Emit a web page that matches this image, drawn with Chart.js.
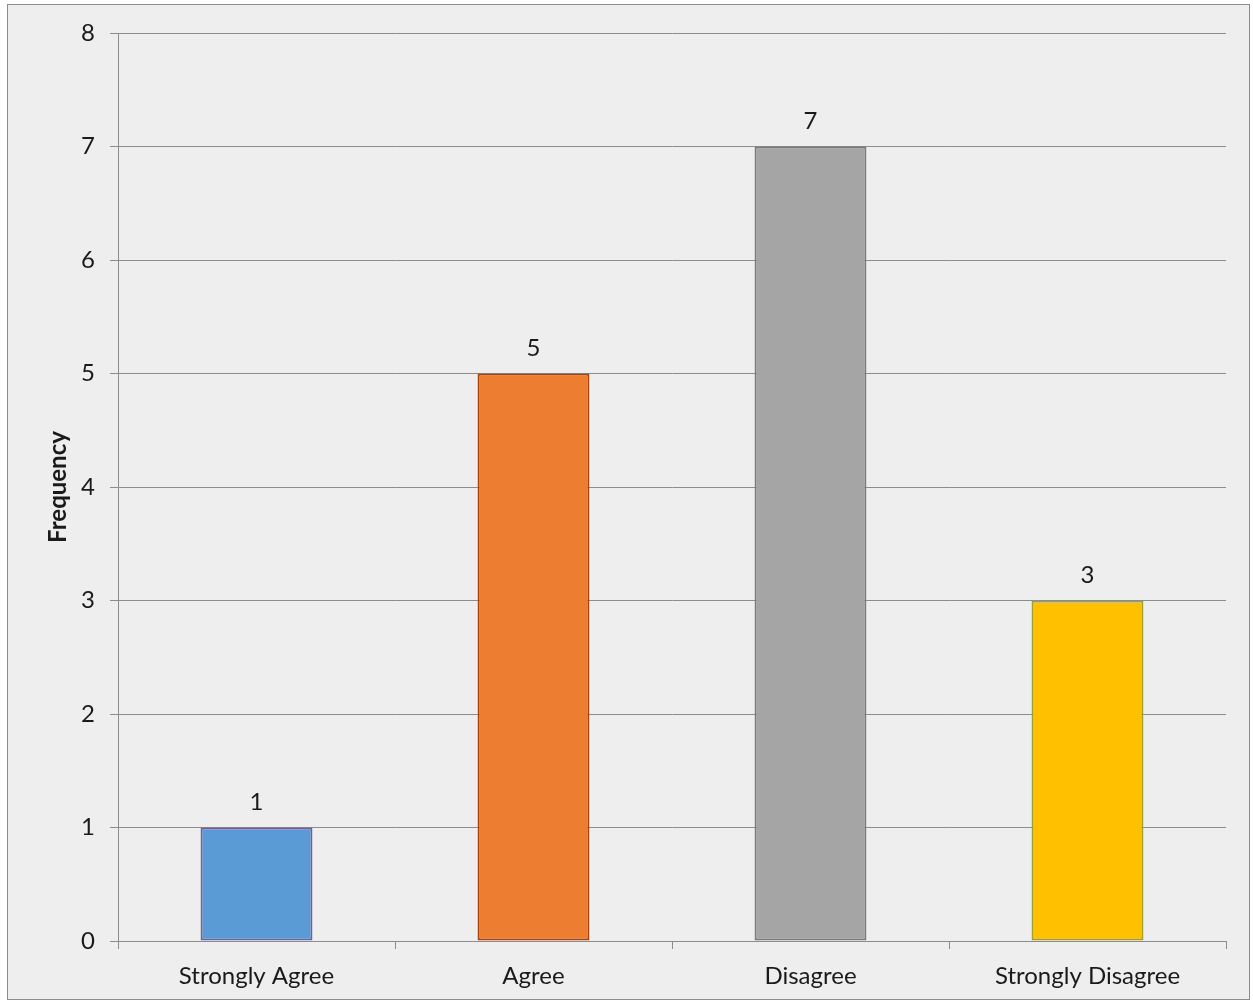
<!DOCTYPE html>
<html>
<head>
<meta charset="utf-8">
<script src="https://cdn.jsdelivr.net/npm/chart.js@4/dist/chart.umd.min.js"></script>
<style>
  html, body { margin: 0; padding: 0; background: #ffffff; }
  #wrap { width: 1253px; height: 1003px; position: relative; }
</style>
</head>
<body>
<div id="wrap"><canvas id="c" width="1253" height="1003"></canvas></div>
<script>
const categories = ["Strongly Agree", "Agree", "Disagree", "Strongly Disagree"];
const frequencies = [1, 5, 7, 3];
const yTicks = [0, 1, 2, 3, 4, 5, 6, 7, 8];
const barColors = ["#5b9bd5", "#ed7d31", "#a5a5a5", "#ffc000"];
const barBorders = ["#6b62a6", "#a8420f", "#7a7a7a", "#a0a030"];

const FONT = "Lato, 'Open Sans', 'Liberation Sans', sans-serif";

const bgPlugin = {
  id: 'bg',
  beforeDraw(chart) {
    const ctx = chart.ctx;
    ctx.save();
    ctx.fillStyle = '#ffffff';
    ctx.fillRect(0, 0, chart.width, chart.height);
    ctx.fillStyle = '#eeeeee';
    ctx.fillRect(7.5, 4.5, 1242, 995);
    ctx.strokeStyle = '#8c8c8c';
    ctx.lineWidth = 1;
    ctx.strokeRect(7.5, 4.5, 1242, 995);
    ctx.restore();
  }
};

const labelPlugin = {
  id: 'vals',
  afterDatasetsDraw(chart) {
    const ctx = chart.ctx;
    const meta = chart.getDatasetMeta(0);
    ctx.save();
    ctx.fillStyle = '#1a1a1a';
    ctx.font = "24px " + FONT;
    ctx.textAlign = 'center';
    ctx.textBaseline = 'middle';
    meta.data.forEach((bar, i) => {
      ctx.fillText(String(frequencies[i]), bar.x, bar.y - 25);
    });
    ctx.restore();
  }
};

new Chart(document.getElementById('c'), {
  type: 'bar',
  data: {
    labels: categories,
    datasets: [{
      data: frequencies,
      backgroundColor: barColors,
      borderColor: barBorders,
      borderWidth: 2,
      borderSkipped: false,
      barPercentage: 0.404,
      categoryPercentage: 1.0
    }]
  },
  options: {
    responsive: false,
    animation: false,
    devicePixelRatio: 1,
    layout: { padding: { left: 0, top: 33, right: 27, bottom: 0 } },
    plugins: {
      legend: { display: false },
      tooltip: { enabled: false }
    },
    scales: {
      x: {
        offset: true,
        grid: {
          offset: true,
          drawOnChartArea: false,
          drawTicks: true,
          tickLength: 8,
          color: '#8c8c8c'
        },
        border: { display: true, color: '#8c8c8c', width: 1 },
        ticks: {
          color: '#1a1a1a',
          font: { family: FONT, size: 24 },
          padding: 13,
          maxRotation: 0
        },
        afterFit(scale) { scale.height = 62; }
      },
      y: {
        min: 0,
        max: 8,
        afterBuildTicks(scale) { scale.ticks = yTicks.map(v => ({ value: v })); },
        grid: {
          color: '#8c8c8c',
          drawTicks: true,
          tickLength: 8,
          lineWidth: 1
        },
        border: { display: true, color: '#8c8c8c', width: 1 },
        ticks: {
          color: '#1a1a1a',
          font: { family: FONT, size: 24 },
          padding: 15
        },
        title: {
          display: true,
          text: 'Frequency',
          color: '#1a1a1a',
          font: { family: FONT, size: 24, weight: 'bold' },
          padding: { top: 44, bottom: 0 }
        },
        afterFit(scale) { scale.width = 118; }
      }
    }
  },
  plugins: [bgPlugin, labelPlugin]
});
</script>
</body>
</html>
